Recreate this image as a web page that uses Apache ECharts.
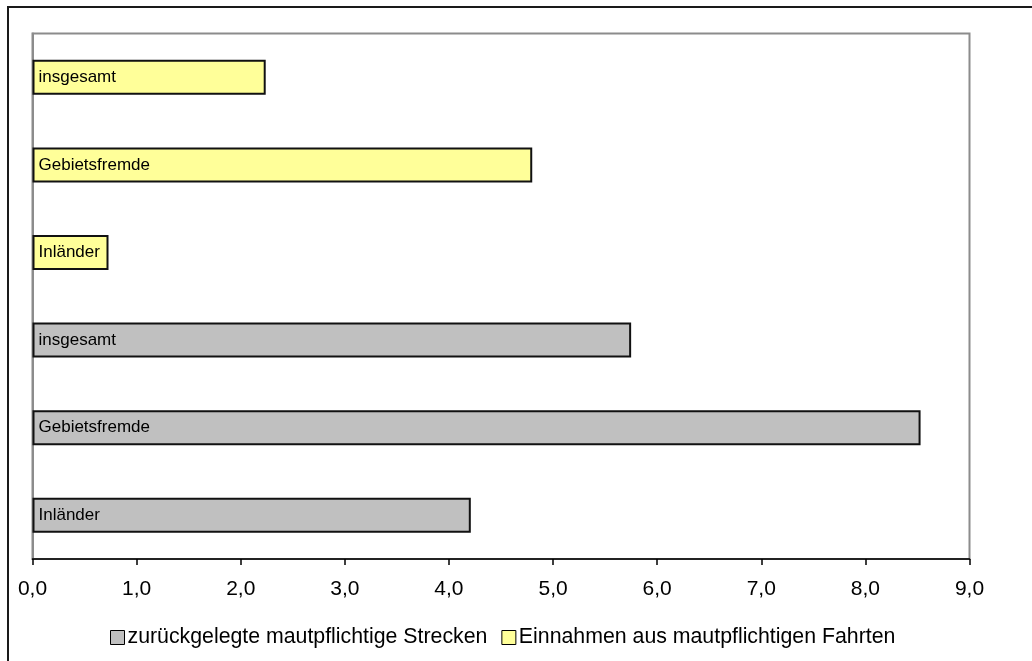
<!DOCTYPE html>
<html>
<head>
<meta charset="utf-8">
<script src="https://cdn.jsdelivr.net/npm/echarts@6/dist/echarts.min.js"></script>
<style>
html,body{margin:0;padding:0;background:#fff;}
#chart{width:1032px;height:661px;}
</style>
</head>
<body>
<div id="chart"></div>
<script>
// Data (bottom to top within each group)
const groupCats = ['Inländer', 'Gebietsfremde', 'insgesamt'];
const streckenValues = [4.21, 8.53, 5.75];
const einnahmenValues = [0.73, 4.80, 2.24];
const seriesNames = ['zurückgelegte mautpflichtige Strecken', 'Einnahmen aus mautpflichtigen Fahrten'];
const xTicks = [0, 1, 2, 3, 4, 5, 6, 7, 8, 9];

const yCats = groupCats.map(c => 'S|' + c).concat(groupCats.map(c => 'E|' + c));
const s1 = streckenValues.concat(groupCats.map(() => null));
const s2 = groupCats.map(() => null).concat(einnahmenValues);

const font = 'Liberation Sans, Arial, sans-serif';
const chart = echarts.init(document.getElementById('chart'));

const labelCfg = {
  show: true,
  position: 'insideLeft',
  distance: 6,
  color: '#000',
  fontSize: 17,
  fontFamily: font,
  formatter: p => p.name.split('|')[1]
};

chart.setOption({
  animation: false,
  backgroundColor: '#fff',
  graphic: [{
    type: 'rect',
    shape: { x: 8, y: 7, width: 1100, height: 1000 },
    style: { fill: 'none', stroke: '#1a1a1a', lineWidth: 2 },
    silent: true, z: 100
  }],
  grid: {
    left: 32.5, right: 62.5, top: 33.5, bottom: 102,
    show: true, borderColor: '#8c8c8c', borderWidth: 2,
    containLabel: false
  },
  legend: {
    top: 622,
    left: 105,
    data: seriesNames,
    icon: 'rect',
    itemWidth: 14, itemHeight: 14,
    itemGap: 14,
    textStyle: { fontSize: 21.3, color: '#000', fontFamily: font, padding: [0, 0, 0, -2] },
    itemStyle: { borderColor: '#000', borderWidth: 1 }
  },
  xAxis: {
    type: 'value',
    min: xTicks[0], max: xTicks[xTicks.length - 1], interval: 1,
    axisLine: { show: true, lineStyle: { color: '#000', width: 1.5 } },
    axisTick: { show: true, length: 6, lineStyle: { color: '#000', width: 1.5 } },
    axisLabel: {
      fontSize: 21, color: '#000', fontFamily: font, margin: 20,
      formatter: v => v.toFixed(1).replace('.', ',')
    },
    splitLine: { show: false }
  },
  yAxis: {
    type: 'category',
    data: yCats,
    axisLine: { show: true, lineStyle: { color: '#8c8c8c', width: 2 } },
    axisTick: { show: false },
    axisLabel: { show: false },
    splitLine: { show: false }
  },
  series: [{
    name: seriesNames[0],
    type: 'bar',
    data: s1,
    barWidth: 35,
    barGap: '-100%',
    itemStyle: { color: '#c0c0c0', borderColor: '#111', borderWidth: 2 },
    label: labelCfg
  }, {
    name: seriesNames[1],
    type: 'bar',
    data: s2,
    barWidth: 35,
    barGap: '-100%',
    itemStyle: { color: '#ffff99', borderColor: '#111', borderWidth: 2 },
    label: labelCfg
  }]
});
</script>
</body>
</html>
